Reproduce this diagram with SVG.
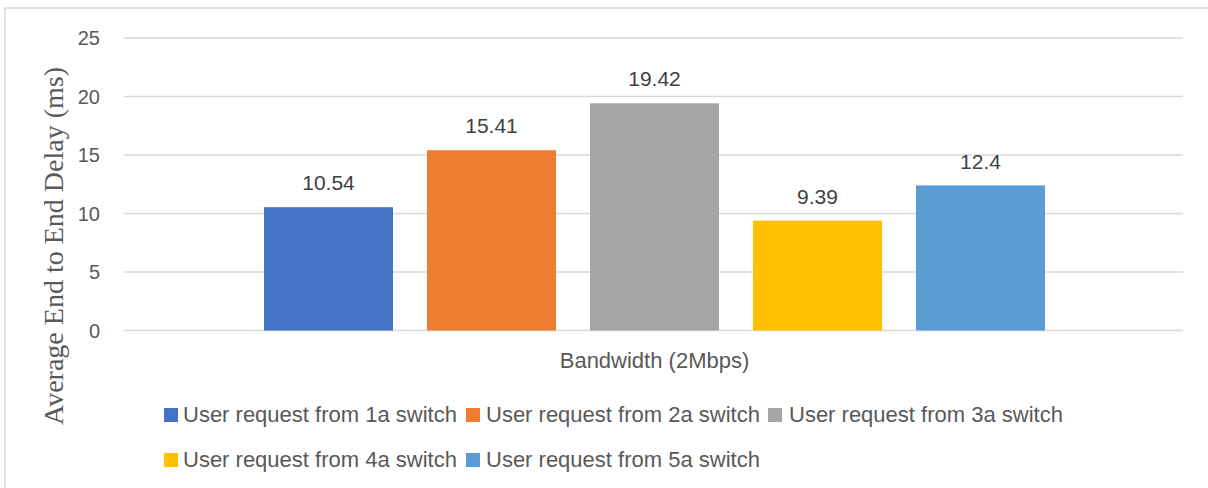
<svg xmlns="http://www.w3.org/2000/svg" width="1208" height="488" viewBox="0 0 1208 488">
  <style>
    .grid { stroke: #d9d9d9; stroke-width: 1.5; fill: none; }
    .frame { stroke: #d9d9d9; stroke-width: 1.5; fill: #ffffff; }
    .tick { font-family: "Liberation Sans", Arial, sans-serif; font-size: 20px; fill: #595959; text-anchor: end; }
    .val { font-family: "Liberation Sans", Arial, sans-serif; font-size: 21px; fill: #404040; text-anchor: middle; }
    .cat { font-family: "Liberation Sans", Arial, sans-serif; font-size: 22px; fill: #595959; text-anchor: middle; }
    .leg { font-family: "Liberation Sans", Arial, sans-serif; font-size: 22px; fill: #595959; }
    .ytitle { font-family: "Liberation Serif", "Times New Roman", serif; font-size: 28px; fill: #595959; text-anchor: middle; }
    .s1 { fill: #4472C4; }
    .s2 { fill: #ED7D31; }
    .s3 { fill: #A5A5A5; }
    .s4 { fill: #FFC000; }
    .s5 { fill: #5B9BD5; }
  </style>

  <!-- chart frame -->
  <rect class="frame" x="5" y="8" width="1230" height="510"/>

  <!-- horizontal gridlines, 0 to 25 in steps of 5 -->
  <g id="gridlines">
    <line class="grid" x1="124" y1="38" x2="1183" y2="38"/>
    <line class="grid" x1="124" y1="96.5" x2="1183" y2="96.5"/>
    <line class="grid" x1="124" y1="155" x2="1183" y2="155"/>
    <line class="grid" x1="124" y1="213.5" x2="1183" y2="213.5"/>
    <line class="grid" x1="124" y1="272" x2="1183" y2="272"/>
    <line class="grid" x1="124" y1="330.5" x2="1183" y2="330.5"/>
  </g>

  <!-- value axis labels -->
  <g id="y-axis">
    <text class="tick" x="100" y="45">25</text>
    <text class="tick" x="100" y="103.5">20</text>
    <text class="tick" x="100" y="162">15</text>
    <text class="tick" x="100" y="220.5">10</text>
    <text class="tick" x="100" y="279">5</text>
    <text class="tick" x="100" y="337.5">0</text>
    <text class="ytitle" transform="translate(63,246) rotate(-90)">Average End to End Delay (ms)</text>
  </g>

  <!-- bars -->
  <g id="bar-1a">
    <rect class="s1" x="264" y="207.2" width="129" height="123.3"/>
    <text class="val" x="328.5" y="190">10.54</text>
  </g>
  <g id="bar-2a">
    <rect class="s2" x="427" y="150.2" width="129" height="180.3"/>
    <text class="val" x="491.5" y="133">15.41</text>
  </g>
  <g id="bar-3a">
    <rect class="s3" x="590" y="103.3" width="129" height="227.2"/>
    <text class="val" x="654.5" y="86">19.42</text>
  </g>
  <g id="bar-4a">
    <rect class="s4" x="753" y="220.6" width="129" height="109.9"/>
    <text class="val" x="817.5" y="203.5">9.39</text>
  </g>
  <g id="bar-5a">
    <rect class="s5" x="916" y="185.4" width="129" height="145.1"/>
    <text class="val" x="980.5" y="168.5">12.4</text>
  </g>

  <!-- category axis label -->
  <g id="x-axis">
    <text class="cat" x="654.5" y="368">Bandwidth (2Mbps)</text>
  </g>

  <!-- legend -->
  <g id="legend">
    <rect class="s1" x="164" y="408" width="14" height="14"/>
    <text class="leg" x="183" y="421.5">User request from 1a switch</text>
    <rect class="s2" x="466" y="408" width="14" height="14"/>
    <text class="leg" x="486" y="421.5">User request from 2a switch</text>
    <rect class="s3" x="768" y="408" width="14" height="14"/>
    <text class="leg" x="789" y="421.5">User request from 3a switch</text>
    <rect class="s4" x="164" y="453" width="14" height="14"/>
    <text class="leg" x="183" y="466.5">User request from 4a switch</text>
    <rect class="s5" x="466" y="453" width="14" height="14"/>
    <text class="leg" x="486" y="466.5">User request from 5a switch</text>
  </g>

  <g id="connectors"/>
</svg>
